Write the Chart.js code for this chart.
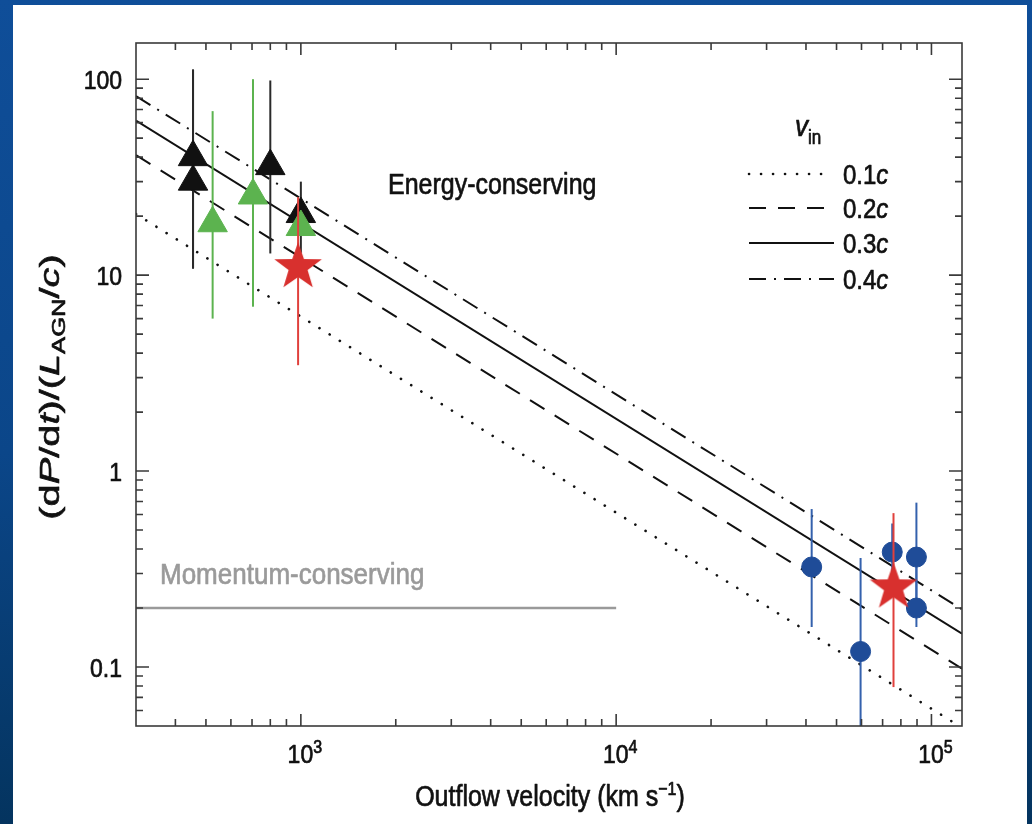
<!DOCTYPE html>
<html>
<head>
<meta charset="utf-8">
<script src="https://cdn.jsdelivr.net/npm/chart.js@4.4.1/dist/chart.umd.min.js"></script>
<style>
    html, body { margin: 0; padding: 0; }
    body {
        width: 1032px; height: 824px; overflow: hidden; position: relative;
        background: linear-gradient(180deg, #0f4e99 0%, #0b4689 55%, #04345f 100%);
    }
    #panel { position: absolute; left: 13px; top: 5px; width: 1014px; height: 819px; background: #fff; }
    #c { position: absolute; left: 0; top: 0; }
</style>
</head>
<body>
<div id="panel"></div>
<canvas id="c" width="1032" height="824"></canvas>
<script>
// axis ranges and labelled ticks
const X_MIN = 300, X_MAX = 125000;
const Y_MIN = 0.05, Y_MAX = 153;
const xMajor = [1e3, 1e4, 1e5];
const xMajorExp = ['3', '4', '5'];
const yMajor = [0.1, 1, 10, 100];
const yMajorLabels = ['0.1', '1', '10', '100'];

// energy-conserving models (straight lines in log-log, read at both ends)
const modelX = [300, 125000];
const modelLabels = ['0.1', '0.2', '0.3', '0.4'];
const model01 = [20.5, 0.049];
const model02 = [41, 0.098];
const model03 = [61.5, 0.148];
const model04 = [82, 0.197];

// momentum-conserving level
const momentumX = [300, 10000];
const momentumY = [0.2, 0.2];

// black triangles
const blackX = [455, 455, 800, 1000];
const blackY = [40, 30, 36, 20.5];
const blackLo = [10.8, 10.8, 12.9, 13];
const blackHi = [112, 112, 98.5, 30];

// green triangles
const greenX = [525, 705, 1000];
const greenY = [18.4, 25.5, 17.6];
const greenLo = [6.0, 6.9, null];
const greenHi = [68.7, 100, null];

// blue circles
const blueX = [41700, 59600, 75100, 89600, 89600];
const blueY = [0.324, 0.12, 0.386, 0.364, 0.2];
const blueLo = [0.16, 0.03, 0.25, 0.2, 0.16];
const blueHi = [0.64, 0.36, 0.54, 0.69, 0.36];

// red stars
const redX = [980, 75800];
const redY = [11, 0.255];
const redLo = [3.47, 0.079];
const redHi = [25, 0.61];

const INK = '#111111';
const FONT = '"Liberation Sans", Arial, Helvetica, sans-serif';
const SY = 1.15; // text in the slide is stretched a little vertically

function pts(xs, ys) {
    return xs.map((x, i) => ({ x, y: ys[i] }));
}

function makeStar(R, color) {
    const size = Math.ceil(R * 2) + 2;
    const cv = document.createElement('canvas');
    cv.width = size; cv.height = size;
    const g = cv.getContext('2d');
    const c = size / 2;
    g.beginPath();
    for (let i = 0; i < 10; i++) {
        const a = -Math.PI / 2 + i * Math.PI / 5;
        const rr = i % 2 ? R * 0.4 : R;
        g.lineTo(c + rr * Math.cos(a), c + rr * Math.sin(a));
    }
    g.closePath();
    g.fillStyle = color;
    g.fill();
    return cv;
}

function modelLine(ys, label, dash, cap) {
    return {
        label, data: pts(modelX, ys), showLine: true, pointRadius: 0,
        borderColor: INK, borderWidth: cap === 'round' ? 2.6 : 2, borderDash: dash,
        borderCapStyle: cap || 'butt', order: 10, legendRow: true,
    };
}

function markers(xs, ys, lo, hi, style, radius, color, errColor, order) {
    return {
        data: pts(xs, ys), pointStyle: style, pointRadius: radius,
        backgroundColor: color, borderColor: color, borderWidth: 1,
        errLo: lo, errHi: hi, errColor, order,
    };
}

const datasets = [
    modelLine(model01, modelLabels[0], [0.1, 11.9], 'round'),
    modelLine(model02, modelLabels[1], [17, 12]),
    modelLine(model03, modelLabels[2], []),
    modelLine(model04, modelLabels[3], [17, 8, 2, 8]),
    {
        data: pts(momentumX, momentumY), showLine: true, pointRadius: 0,
        borderColor: '#9a9a9a', borderWidth: 2.5, order: 9,
    },
    markers(blackX, blackY, blackLo, blackHi, 'triangle', 17, INK, '#2a2a2a', 4),
    markers(greenX, greenY, greenLo, greenHi, 'triangle', 17, '#5cb34f', '#5cb34f', 3),
    markers(blueX, blueY, blueLo, blueHi, 'circle', 10, '#1f4c98', '#3461ad', 2),
    markers(redX, redY, redLo, redHi, makeStar(25, '#d8302e'), 12, '#d8302e', '#e0403c', 1),
];

// draw a run of text pieces (normal / italic / sub / sup) on one baseline
function richText(ctx, parts, align) {
    let w = 0;
    const widths = parts.map((p) => {
        ctx.font = `${p.style || ''} ${p.size}px ${FONT}`;
        const m = ctx.measureText(p.t).width;
        w += m;
        return m;
    });
    let cx = align === 'center' ? -w / 2 : align === 'right' ? -w : 0;
    ctx.textBaseline = 'alphabetic';
    ctx.textAlign = 'left';
    ctx.lineJoin = 'round';
    parts.forEach((p, i) => {
        ctx.font = `${p.style || ''} ${p.size}px ${FONT}`;
        ctx.fillStyle = p.color || INK;
        ctx.strokeStyle = p.color || INK;
        ctx.lineWidth = 0.6;
        ctx.fillText(p.t, cx, p.dy || 0);
        ctx.strokeText(p.t, cx, p.dy || 0);
        cx += widths[i];
    });
}

function textAt(ctx, x, y, parts, align) {
    ctx.save();
    ctx.translate(x, y);
    ctx.scale(1, SY);
    richText(ctx, parts, align);
    ctx.restore();
}

function minorTicks(min, max, majors) {
    const out = [];
    for (let dec = 0.01; dec <= 1e6; dec *= 10) {
        for (let m = 2; m <= 9; m++) {
            const v = +(m * dec).toPrecision(3);
            if (v > min && v < max) out.push(v);
        }
    }
    return out.filter((v) => !majors.includes(v));
}

const errorBars = {
    id: 'errorBars',
    beforeDatasetDraw(chart, args) {
        const ds = chart.data.datasets[args.index];
        if (!ds.errLo) return;
        const { ctx, chartArea: a, scales: { x, y } } = chart;
        ctx.save();
        ctx.beginPath();
        ctx.rect(a.left, a.top, a.right - a.left, a.bottom - a.top);
        ctx.clip();
        ctx.strokeStyle = ds.errColor;
        ctx.lineWidth = 2;
        ds.data.forEach((p, i) => {
            if (ds.errLo[i] == null) return;
            const px = x.getPixelForValue(p.x);
            ctx.beginPath();
            ctx.moveTo(px, y.getPixelForValue(ds.errLo[i]));
            ctx.lineTo(px, y.getPixelForValue(ds.errHi[i]));
            ctx.stroke();
        });
        ctx.restore();
    },
};

// frame with inward ticks on all four sides
const frameTicks = {
    id: 'frameTicks',
    afterDatasetsDraw(chart) {
        const { ctx, chartArea: a, scales: { x, y } } = chart;
        ctx.save();
        ctx.strokeStyle = '#3a3a3a';
        ctx.lineWidth = 1.6;
        ctx.strokeRect(a.left, a.top, a.right - a.left, a.bottom - a.top);
        const tick = (v, len, horiz) => {
            ctx.beginPath();
            if (horiz) {
                const px = x.getPixelForValue(v);
                ctx.moveTo(px, a.bottom); ctx.lineTo(px, a.bottom - len);
                ctx.moveTo(px, a.top); ctx.lineTo(px, a.top + len);
            } else {
                const py = y.getPixelForValue(v);
                ctx.moveTo(a.left, py); ctx.lineTo(a.left + len, py);
                ctx.moveTo(a.right, py); ctx.lineTo(a.right - len, py);
            }
            ctx.stroke();
        };
        xMajor.forEach((v) => tick(v, 12, true));
        minorTicks(X_MIN, X_MAX, xMajor).forEach((v) => tick(v, 7, true));
        yMajor.forEach((v) => tick(v, 13, false));
        minorTicks(Y_MIN, Y_MAX, yMajor).forEach((v) => tick(v, 7, false));
        ctx.restore();
    },
};

const labels = {
    id: 'labels',
    afterDraw(chart) {
        const { ctx, chartArea: a, scales: { x, y } } = chart;
        yMajor.forEach((v, i) => {
            textAt(ctx, a.left - 14, y.getPixelForValue(v) + 9.5, [{ t: yMajorLabels[i], size: 23 }], 'right');
        });
        xMajor.forEach((v, i) => {
            textAt(ctx, x.getPixelForValue(v) + 4, 763, [
                { t: '10', size: 23 },
                { t: xMajorExp[i], size: 16, dy: -9 },
            ], 'center');
        });

        textAt(ctx, 550, 806, [
            { t: 'Outflow velocity (km s', size: 25 },
            { t: '\u22121', size: 16, dy: -10 },
            { t: ')', size: 25 },
        ], 'center');

        // rotated y title, stretched along its length like the slide
        ctx.save();
        ctx.translate(59, 387);
        ctx.rotate(-Math.PI / 2);
        ctx.scale(1.42, 1);
        richText(ctx, [
            { t: '(d', size: 28 }, { t: 'P', size: 28, style: 'italic' },
            { t: '/d', size: 28 }, { t: 't', size: 28, style: 'italic' },
            { t: ')/(', size: 28 }, { t: 'L', size: 28, style: 'italic' },
            { t: 'AGN', size: 18, dy: 6 }, { t: '/', size: 28 },
            { t: 'c', size: 28, style: 'italic' }, { t: ')', size: 28 },
        ], 'center');
        ctx.restore();

        textAt(ctx, 388, 194, [{ t: 'Energy-conserving', size: 25 }], 'left');
        textAt(ctx, 160, 584, [{ t: 'Momentum-conserving', size: 26, color: '#9a9a9a' }], 'left');

        // legend for the model lines
        textAt(ctx, 795, 136, [
            { t: 'v', size: 26, style: 'italic' },
            { t: 'in', size: 17, dy: 7 },
        ], 'left');
        const rowY = [174, 208, 243, 279];
        chart.data.datasets.filter((d) => d.legendRow).forEach((d, i) => {
            const yy = rowY[i];
            ctx.save();
            ctx.strokeStyle = d.borderColor;
            ctx.lineWidth = d.borderWidth;
            ctx.lineCap = d.borderCapStyle;
            ctx.setLineDash(d.borderDash);
            ctx.beginPath();
            ctx.moveTo(749, yy);
            ctx.lineTo(d.borderCapStyle === 'round' ? 826 : 834, yy);
            ctx.stroke();
            ctx.restore();
            textAt(ctx, 843, yy + 9.5, [
                { t: d.label, size: 24 },
                { t: 'c', size: 24, style: 'italic' },
            ], 'left');
        });
    },
};

new Chart(document.getElementById('c'), {
    type: 'scatter',
    data: { datasets },
    options: {
        responsive: false,
        animation: false,
        devicePixelRatio: 1,
        layout: { padding: { left: 0, top: 43, right: 70, bottom: 0 } },
        plugins: { legend: { display: false }, tooltip: { enabled: false } },
        scales: {
            x: {
                type: 'logarithmic', min: X_MIN, max: X_MAX,
                grid: { display: false }, border: { display: false }, ticks: { display: false },
                afterFit(s) { s.height = 98; },
            },
            y: {
                type: 'logarithmic', min: Y_MIN, max: Y_MAX,
                grid: { display: false }, border: { display: false }, ticks: { display: false },
                afterFit(s) { s.width = 136; },
            },
        },
    },
    plugins: [errorBars, frameTicks, labels],
});
</script>
</body>
</html>
